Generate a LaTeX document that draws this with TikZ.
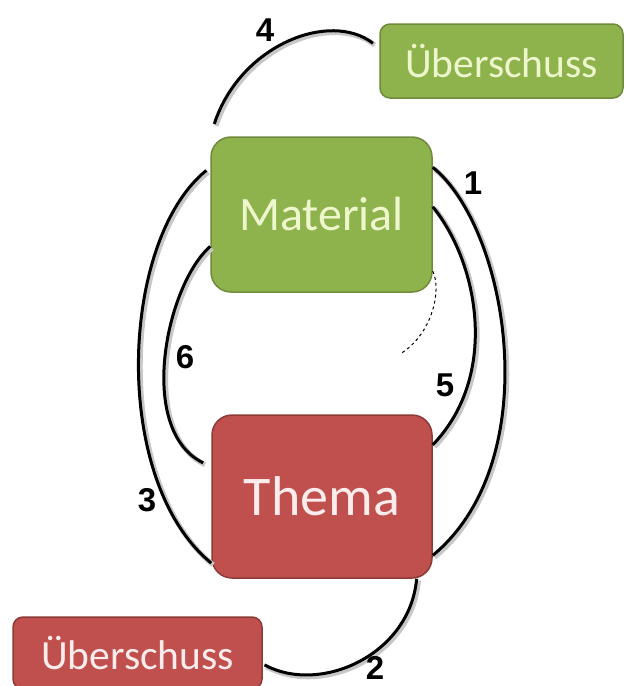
\documentclass[tikz,border=0pt]{standalone}
\usepackage{fontspec}
\setmainfont{Carlito}
\newfontfamily\numfont{Liberation Sans}

\definecolor{matgreen}{RGB}{143,179,76}
\definecolor{matgreenline}{RGB}{112,138,60}
\definecolor{matgreentext}{RGB}{238,246,205}
\definecolor{themared}{RGB}{192,80,77}
\definecolor{themaredline}{RGB}{140,58,56}
\definecolor{themaredtext}{RGB}{252,236,236}

\tikzset{
  greenbox/.style={draw=matgreenline, fill=matgreen, text=matgreentext, line width=1.5pt, inner sep=0pt},
  redbox/.style={draw=themaredline, fill=themared, text=themaredtext, line width=1.5pt, inner sep=0pt},
  link/.style={line width=3pt, preaction={draw=black!22, line width=5pt, transform canvas={shift={(1.8pt,-1.8pt)}}}},
  num/.style={inner sep=1pt, font=\numfont\bfseries\fontsize{33}{33}\selectfont}
}

\begin{document}
\begin{tikzpicture}[x=1pt,y=-1pt]

  \useasboundingbox (0,0) rectangle (625,686);

  \newcommand\MatSize{\fontsize{48}{52}\selectfont}
  \newcommand\ThemaSize{\fontsize{56}{60}\selectfont}
  \newcommand\RestSize{\fontsize{41.5}{45}\selectfont}

  \node[greenbox, minimum width=221pt, minimum height=155pt, rounded corners=20pt, font=\MatSize] (mat) at (321.5,214.5) {Material};
  \node[redbox, minimum width=220pt, minimum height=163pt, rounded corners=20pt, font=\ThemaSize] (thema) at (322,496.5) {Thema};
  \node[greenbox, minimum width=243pt, minimum height=74pt, rounded corners=10pt, font=\RestSize] (uebg) at (501.5,61) {Überschuss};
  \node[redbox, minimum width=249pt, minimum height=72pt, rounded corners=10pt, font=\RestSize] (uebr) at (137.5,653) {Überschuss};

  \coordinate (dashend) at (400,354);

  \draw[link] (mat.23) .. controls (508,228) and (548,460) .. (thema.-28);
  \draw[link, shorten >=2pt] (thema.-41) .. controls (410,655) and (320,695) .. (uebr.-5);
  \draw[link, shorten <=5pt] (mat.157) .. controls (120,240) and (110,480) .. (thema.211);
  \draw[link, shorten <=13pt, shorten >=8pt] (mat.north west) .. controls (240,45) and (330,10) .. (uebg.174);
  \draw[link] (mat.4) .. controls (478,262) and (500,375) .. (thema.25);
  \draw[link, shorten >=9pt] (mat.196) .. controls (166,285) and (136,430) .. (thema.165);
  \draw[dashed, line width=1pt] (mat.-27) .. controls (442,290) and (432,335) .. (dashend);

  \node[num] (lab1) at (473,183) {1};
  \node[num] (lab2) at (375,668) {2};
  \node[num] (lab3) at (147,500) {3};
  \node[num] (lab4) at (265,30) {4};
  \node[num] (lab5) at (445,385) {5};
  \node[num] (lab6) at (185,357) {6};

\end{tikzpicture}
\end{document}
